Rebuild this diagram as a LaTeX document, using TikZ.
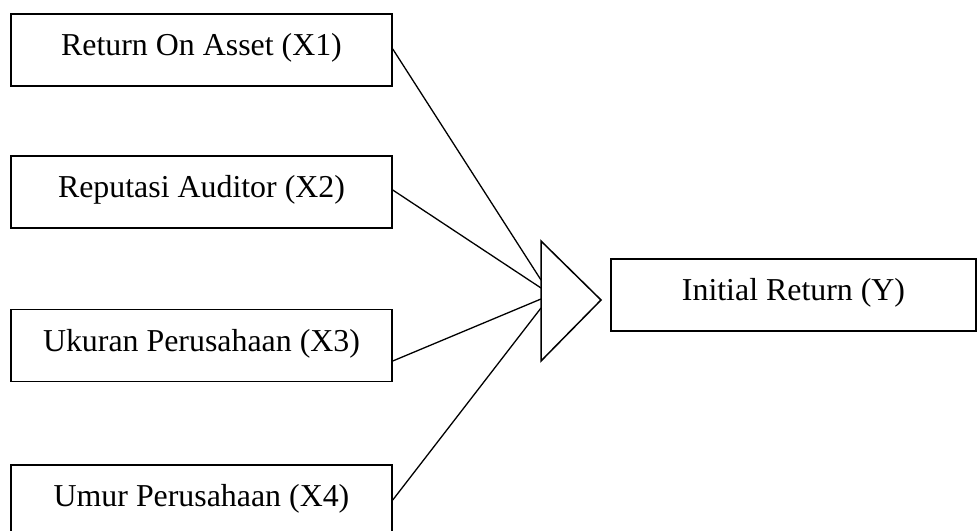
\documentclass[tikz,border=0pt]{standalone}
\usepackage{fontspec}
\setmainfont{Liberation Serif}
\begin{document}
\begin{tikzpicture}[x=1bp,y=-1bp,
  box/.style={draw,line width=1.5bp,rectangle,inner sep=0pt,minimum width=381bp,minimum height=72bp,text height=24bp,text depth=13bp,font=\fontsize{32}{37}\selectfont},
  conn/.style={line width=1.3bp}]
\useasboundingbox (0,0) rectangle (979,531);
\clip (0,0) rectangle (979,531);
\node[box] (b1) at (201.5,50) {Return On Asset (X1)};
\node[box] (b2) at (201.5,192) {Reputasi Auditor (X2)};
\node[box] (b3) at (201.5,345.5) {Ukuran Perusahaan (X3)};
\node[box] (b4) at (201.5,501) {Umur Perusahaan (X4)};
\node[box,minimum width=365bp] (y) at (793.5,295) {Initial Return (Y)};
\coordinate (t1) at (541,241);
\coordinate (t2) at (601,300);
\coordinate (t3) at (541,361);
\draw[line width=1.5bp,line join=miter] (t1) -- (t2) -- (t3) -- cycle;
\coordinate (s1) at ([yshift=1bp]b1.east);
\coordinate (s2) at ([yshift=2bp]b2.east);
\coordinate (s3) at ([yshift=-15.5bp]b3.east);
\coordinate (s4) at ([yshift=1bp]b4.east);
\coordinate (e1) at (541,280);
\coordinate (e2) at (541,288);
\coordinate (e3) at (541,299);
\coordinate (e4) at (541,308);
\draw[conn] (s1) -- (e1);
\draw[conn] (s2) -- (e2);
\draw[conn] (s3) -- (e3);
\draw[conn] (s4) -- (e4);
\end{tikzpicture}
\end{document}
